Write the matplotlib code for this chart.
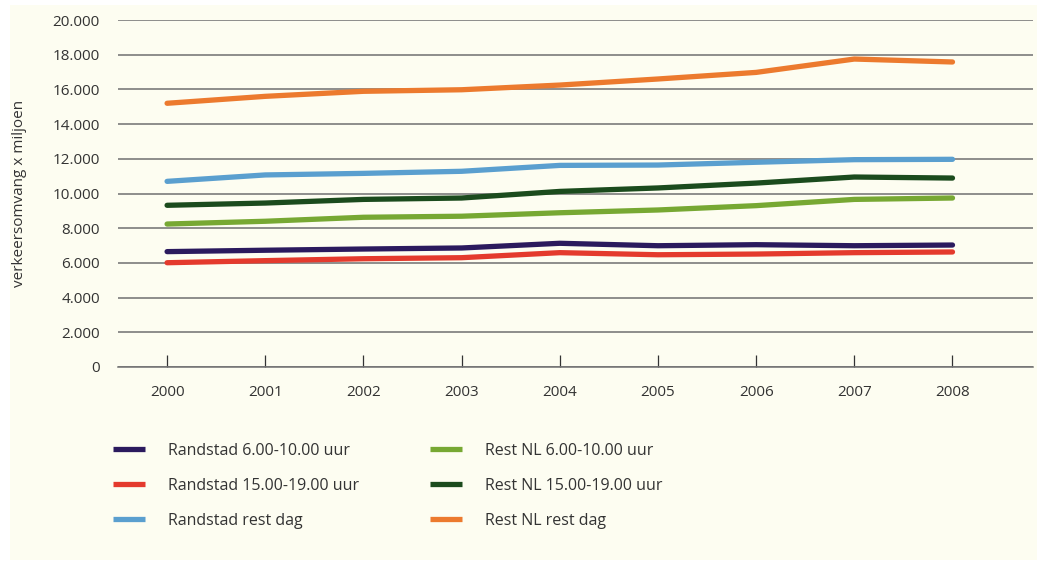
import matplotlib
matplotlib.use("Agg")
import matplotlib.pyplot as plt
from matplotlib.patches import Rectangle
from matplotlib.lines import Line2D
from matplotlib.ticker import FuncFormatter

plt.rcParams['font.family'] = ['Open Sans', 'DejaVu Sans']

years = [2000, 2001, 2002, 2003, 2004, 2005, 2006, 2007, 2008]

randstad_ochtend = [6650, 6730, 6800, 6860, 7130, 6990, 7050, 6990, 7030]
randstad_avond = [6010, 6130, 6240, 6300, 6590, 6470, 6510, 6590, 6630]
randstad_rest = [10700, 11070, 11160, 11280, 11620, 11640, 11800, 11950, 11970]
restnl_ochtend = [8240, 8400, 8630, 8690, 8890, 9050, 9300, 9660, 9740]
restnl_avond = [9320, 9450, 9660, 9740, 10120, 10320, 10600, 10950, 10890]
restnl_rest = [15200, 15600, 15890, 15980, 16250, 16600, 16980, 17750, 17580]

labels = ['Randstad 6.00-10.00 uur', 'Randstad 15.00-19.00 uur', 'Randstad rest dag',
          'Rest NL 6.00-10.00 uur', 'Rest NL 15.00-19.00 uur', 'Rest NL rest dag']
colors = ['#2b1a5e', '#e43a2d', '#5a9fcf', '#77a833', '#1b4b1d', '#ec7a2e']
series = [randstad_ochtend, randstad_avond, randstad_rest,
          restnl_ochtend, restnl_avond, restnl_rest]

yticks = [0, 2000, 4000, 6000, 8000, 10000, 12000, 14000, 16000, 18000, 20000]

fig = plt.figure(figsize=(10.37, 5.61), dpi=100, facecolor='white')
# cream panel behind the whole graphic
fig.patches.append(Rectangle((10 / 1037, 1 - 560 / 561), 1 - 10 / 1037, 555 / 561,
                             transform=fig.transFigure, facecolor='#fdfdf1',
                             edgecolor='none', zorder=-10))

ax = fig.add_axes([118 / 1037, 1 - 367 / 561, 915 / 1037, 347 / 561])
ax.set_facecolor('none')

for vals, lab, col in zip(series, labels, colors):
    ax.plot(years, vals, color=col, lw=3.8, solid_capstyle='round',
            solid_joinstyle='round', label=lab, zorder=3)

ax.set_xlim(1999.5, 2008.82)
ax.set_ylim(0, 20000)
ax.set_yticks(yticks)
ax.yaxis.set_major_formatter(FuncFormatter(lambda v, p: f"{int(v):,}".replace(',', '.')))
ax.set_xticks(years)
ax.grid(axis='y', color='#707070', lw=1.1)
ax.set_axisbelow(True)

for s in ['top', 'right', 'left']:
    ax.spines[s].set_visible(False)
ax.spines['bottom'].set_color('#707070')
ax.spines['bottom'].set_linewidth(1.1)

ax.tick_params(axis='y', length=0, pad=13, labelsize=11, labelcolor='#333333')
ax.tick_params(axis='x', direction='in', length=8.5, width=0.9, color='#333333',
               pad=13, labelsize=11, labelcolor='#333333')
ax.xaxis.get_major_ticks()[1].tick1line.set_color('#6a4fa0')

ax.set_ylabel('verkeersomvang x miljoen', fontsize=11, color='#333333')
ax.yaxis.set_label_coords(-0.099, 0.5)

# flat legend swatches
swatches = [Line2D([], [], color=c, lw=3.8, solid_capstyle='butt') for c in colors]

legend_kw = dict(frameon=False, fontsize=11.5, handlelength=2.0, handletextpad=1.45,
                 labelspacing=1.18, labelcolor='#333333', loc='upper left',
                 borderaxespad=0, borderpad=0)
fig.legend(swatches[:3], labels[:3], bbox_to_anchor=(113 / 1037, 1 - 443 / 561), **legend_kw)
fig.legend(swatches[3:], labels[3:], bbox_to_anchor=(430 / 1037, 1 - 443 / 561), **legend_kw)

fig.savefig('out.png', dpi=100, facecolor='white')
